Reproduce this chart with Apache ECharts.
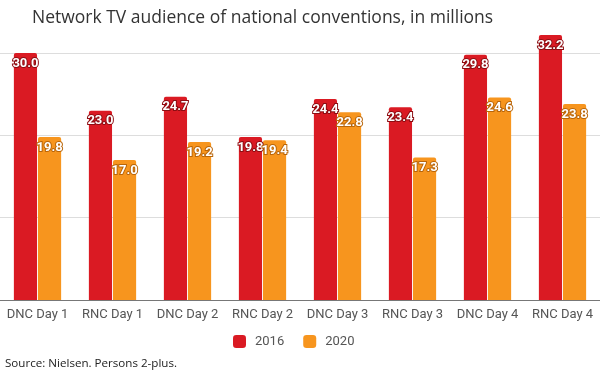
<!DOCTYPE html>
<html>
<head>
<meta charset="utf-8">
<script src="https://cdn.jsdelivr.net/npm/echarts@6/dist/echarts.min.js"></script>
<style>
  html, body { margin: 0; padding: 0; background: #fff; }
  #chart { width: 600px; height: 375px; }
</style>
</head>
<body>
<div id="chart"></div>
<script>
const categories = ['DNC Day 1', 'RNC Day 1', 'DNC Day 2', 'RNC Day 2', 'DNC Day 3', 'RNC Day 3', 'DNC Day 4', 'RNC Day 4'];
const values2016 = [30.0, 23.0, 24.7, 19.8, 24.4, 23.4, 29.8, 32.2];
const values2020 = [19.8, 17.0, 19.2, 19.4, 22.8, 17.3, 24.6, 23.8];
const seriesNames = ['2016', '2020'];

var myChart = echarts.init(document.getElementById('chart'));

const lbl = (border) => ({
  show: true,
  position: 'insideTop',
  distance: 4,
  color: '#fff',
  fontFamily: 'Roboto',
  fontWeight: 'bold',
  fontSize: 13,
  textBorderColor: border,
  textBorderWidth: 2,
  formatter: (p) => p.value.toFixed(1)
});

var option = {
  animation: false,
  title: {
    text: 'Network TV audience of national conventions, in millions',
    left: 27,
    top: 4,
    textStyle: { fontFamily: 'Open Sans', fontWeight: 'normal', fontSize: 17.5, color: '#333' }
  },
  graphic: [{
    type: 'text',
    left: 5,
    top: 358,
    style: { text: 'Source: Nielsen. Persons 2-plus.', fontFamily: 'Open Sans', fontSize: 11.6, fill: '#222' }
  }],
  legend: {
    data: seriesNames,
    top: 330,
    left: 228,
    itemWidth: 13,
    itemHeight: 13,
    itemGap: 19,
    icon: 'roundRect',
    textStyle: { fontFamily: 'Roboto', fontSize: 13, color: '#555', padding: [0, 0, 0, 4] }
  },
  grid: { left: 0, right: 0, top: 53, bottom: 75 },
  xAxis: {
    type: 'category',
    data: categories,
    axisTick: { show: false },
    axisLine: { lineStyle: { color: '#777', width: 1 } },
    axisLabel: { fontFamily: 'Roboto', fontSize: 13, color: '#555', margin: 8, interval: 0 }
  },
  yAxis: {
    type: 'value',
    min: 0,
    max: 30,
    interval: 10,
    axisLabel: { show: false },
    splitLine: { lineStyle: { color: '#ddd' } }
  },
  series: [
    {
      name: seriesNames[0],
      type: 'bar',
      data: values2016,
      clip: false,
      barGap: '4%',
      barCategoryGap: '37%',
      itemStyle: { color: '#DA1A23', borderRadius: [2, 2, 0, 0] },
      label: lbl('#8c0d12')
    },
    {
      name: seriesNames[1],
      type: 'bar',
      data: values2020,
      clip: false,
      itemStyle: { color: '#F7951E', borderRadius: [2, 2, 0, 0] },
      label: lbl('#b8650a')
    }
  ]
};

option && myChart.setOption(option);
</script>
</body>
</html>
